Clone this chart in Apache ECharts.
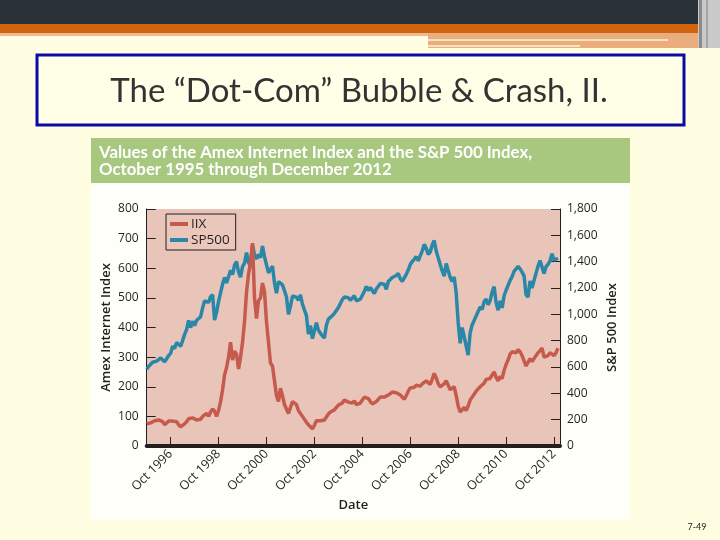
<!DOCTYPE html>
<html>
<head>
<meta charset="utf-8">
<script src="https://cdn.jsdelivr.net/npm/echarts@6/dist/echarts.min.js"></script>
<style>
html,body{margin:0;padding:0;background:#FFFDE2;}
#chart{width:720px;height:540px;}
</style>
</head>
<body>
<div id="chart"></div>
<script>
// ---- data ----
const slideTitle = 'The \u201CDot-Com\u201D Bubble & Crash, II.';
const chartTitle1 = 'Values of the Amex Internet Index and the S&P 500 Index,';
const chartTitle2 = 'October 1995 through December 2012';
const pageNumber = '7-49';
const seriesNames = ['IIX', 'SP500'];
const monthNames = ['Jan','Feb','Mar','Apr','May','Jun','Jul','Aug','Sep','Oct','Nov','Dec'];
const startYear = 1995, startMonth = 9, monthCount = 208; // Oct 1995 .. Jan 2013
const xTickLabels = ['Oct 1996','Oct 1998','Oct 2000','Oct 2002','Oct 2004','Oct 2006','Oct 2008','Oct 2010','Oct 2012'];
const leftTicks = [0,100,200,300,400,500,600,700,800];
const rightTicks = [0,200,400,600,800,1000,1200,1400,1600,1800];

// monthly values, Oct 1995 .. Dec 2012
const iix = [
  75, 80, 78,
  82, 85, 80, 88, 92, 82, 72, 78, 84, 80, 84, 80,
  82, 72, 65, 62, 75, 82, 92, 88, 95, 90, 88, 85,
  90, 100, 105, 110, 100, 115, 125, 118, 100, 120, 150, 190,
  240, 265, 300, 350, 290, 320, 310, 260, 300, 350, 420, 520,
  580, 620, 685, 500, 430, 490, 500, 550, 520, 420, 350, 280,
  270, 220, 170, 150, 195, 170, 140, 125, 110, 130, 150, 150,
  140, 120, 115, 100, 95, 80, 72, 68, 58, 70, 85, 82,
  85, 82, 88, 98, 108, 115, 118, 122, 130, 138, 140, 145,
  155, 150, 148, 150, 145, 152, 140, 135, 145, 155, 165, 170,
  160, 150, 142, 138, 150, 155, 165, 162, 165, 160, 172, 175,
  182, 178, 180, 185, 172, 165, 158, 170, 185, 196, 200, 198,
  205, 200, 202, 210, 215, 220, 215, 208, 225, 245, 230, 210,
  200, 195, 210, 220, 205, 190, 192, 200, 170, 135, 115, 122,
  130, 120, 135, 155, 165, 175, 185, 190, 200, 205, 212, 225,
  220, 228, 240, 250, 232, 220, 235, 228, 255, 275, 290, 310,
  318, 322, 315, 325, 318, 305, 310, 270, 275, 295, 285, 290,
  305, 315, 322, 330, 300, 295, 305, 315, 320, 305, 315, 330
];
const sp500 = [
  582, 605, 616,
  636, 640, 645, 654, 669, 671, 639, 651, 687, 705, 757, 741,
  786, 791, 757, 801, 848, 885, 954, 899, 947, 915, 955, 970,
  980, 1049, 1101, 1112, 1091, 1134, 1150, 957, 1017, 1099, 1164, 1229,
  1280, 1238, 1286, 1335, 1302, 1373, 1400, 1320, 1283, 1363, 1389, 1469,
  1394, 1366, 1527, 1452, 1421, 1455, 1431, 1518, 1437, 1429, 1315, 1320,
  1366, 1240, 1160, 1249, 1256, 1224, 1211, 1134, 1000, 1060, 1139, 1148,
  1130, 1107, 1147, 1077, 1067, 990, 850, 916, 815, 800, 936, 880,
  856, 841, 820, 917, 964, 975, 990, 1008, 996, 1051, 1058, 1112,
  1131, 1145, 1126, 1107, 1121, 1141, 1102, 1090, 1115, 1130, 1174, 1212,
  1181, 1204, 1181, 1157, 1192, 1191, 1234, 1220, 1229, 1190, 1249, 1248,
  1280, 1281, 1295, 1311, 1270, 1250, 1277, 1304, 1336, 1378, 1401, 1418,
  1438, 1407, 1421, 1482, 1531, 1503, 1455, 1474, 1527, 1560, 1481, 1468,
  1379, 1331, 1290, 1386, 1400, 1280, 1250, 1283, 1165, 940, 780, 900,
  830, 760, 690, 860, 919, 919, 987, 1021, 1057, 1036, 1096, 1115,
  1074, 1104, 1169, 1210, 1089, 1031, 1102, 1049, 1141, 1183, 1181, 1258,
  1286, 1327, 1326, 1364, 1345, 1321, 1292, 1150, 1131, 1253, 1200, 1258,
  1312, 1366, 1408, 1398, 1310, 1362, 1379, 1407, 1460, 1412, 1400, 1426
];

// ---- build ----
const categories = [];
for (let i = 0; i < monthCount; i++) {
  const m = (startMonth + i) % 12;
  const y = startYear + Math.floor((startMonth + i) / 12);
  categories.push(monthNames[m] + ' ' + y);
}
const isTick = (idx, val) => xTickLabels.indexOf(val) >= 0;
const fmtComma = v => v >= 1000 ? Math.floor(v / 1000) + ',' + String(v % 1000).padStart(3, '0') : String(v);

const FONT = 'Open Sans';
const INK = '#231F20';

const chart = echarts.init(document.getElementById('chart'), null, {renderer: 'canvas'});
chart.setOption({
  backgroundColor: '#FFFDE2',
  animation: false,
  textStyle: {fontFamily: FONT},
  graphic: [
    // slide decoration
    {type: 'rect', shape: {x: 0, y: 0, width: 720, height: 24}, style: {fill: '#2B3139'}, z: -10},
    {type: 'rect', shape: {x: 0, y: 24, width: 700, height: 9}, style: {fill: '#D3640F'}, z: -10},
    {type: 'rect', shape: {x: 0, y: 33, width: 428, height: 3}, style: {fill: '#EDB98E'}, z: -10},
    {type: 'rect', shape: {x: 428, y: 33, width: 272, height: 15}, style: {fill: '#E9AE7C'}, z: -10},
    {type: 'rect', shape: {x: 428, y: 39, width: 240, height: 2}, style: {fill: '#F8E2C4'}, z: -9},
    {type: 'rect', shape: {x: 428, y: 45, width: 152, height: 2}, style: {fill: '#F8E2C4'}, z: -9},
    {type: 'rect', shape: {x: 698, y: 0, width: 22, height: 48}, style: {fill: '#C9C9C9'}, z: -10},
    {type: 'rect', shape: {x: 699, y: 0, width: 3, height: 48}, style: {fill: '#8A8A8A'}, z: -9},
    {type: 'rect', shape: {x: 706, y: 0, width: 2, height: 48}, style: {fill: '#A5A5A5'}, z: -9},
    // title box
    {type: 'rect', shape: {x: 37, y: 55, width: 647, height: 70}, style: {fill: '#FFFEE6', stroke: '#0A0AA8', lineWidth: 3}, z: -8},
    {type: 'text', x: 359, y: 91, style: {text: slideTitle, font: '33px Lato', fill: '#333333', align: 'center', verticalAlign: 'middle'}},
    // chart panel
    {type: 'rect', shape: {x: 91, y: 138, width: 539, height: 382}, style: {fill: '#FFFFFA'}, z: -8},
    {type: 'rect', shape: {x: 91, y: 138, width: 539, height: 45}, style: {fill: '#A8C880'}, z: -7},
    {type: 'text', x: 99, y: 153, style: {text: chartTitle1, font: 'bold 16.8px Lato', fill: '#FFFFFF', verticalAlign: 'middle'}},
    {type: 'text', x: 99, y: 170, style: {text: chartTitle2, font: 'bold 16.8px Lato', fill: '#FFFFFF', verticalAlign: 'middle'}},
    // page number
    {type: 'text', x: 697, y: 527, style: {text: pageNumber, font: '9px Lato', fill: '#222222', align: 'center', verticalAlign: 'middle'}}
  ],
  legend: {
    data: seriesNames,
    orient: 'vertical',
    left: 166, top: 214,
    padding: [3, 6, 3, 4],
    itemGap: 2,
    itemWidth: 18, itemHeight: 4,
    icon: 'rect',
    borderColor: INK, borderWidth: 1,
    backgroundColor: '#EBC7BB',
    textStyle: {fontSize: 13.5, color: INK, fontFamily: FONT, padding: [0, 0, 0, -2]}
  },
  grid: {
    left: 146.7, top: 209, right: 160, bottom: 94,
    show: true, backgroundColor: '#E9C5B9', borderWidth: 0,
    containLabel: false
  },
  xAxis: {
    type: 'category',
    data: categories,
    boundaryGap: false,
    axisLine: {lineStyle: {color: INK, width: 4}},
    axisTick: {inside: true, length: 9, interval: isTick, lineStyle: {color: INK, width: 1}},
    axisLabel: {interval: isTick, rotate: 45, fontSize: 12.5, color: INK, margin: 6, fontFamily: FONT},
    name: 'Date', nameLocation: 'middle', nameGap: 53, nameMoveOverlap: false,
    nameTextStyle: {fontSize: 13, color: INK, fontWeight: 600, fontFamily: FONT},
    splitLine: {show: false}
  },
  yAxis: [
    {
      type: 'value', min: 0, max: 800, interval: 100, position: 'left',
      axisLine: {show: true, lineStyle: {color: INK, width: 1}},
      axisTick: {show: true, inside: true, length: 9, lineStyle: {color: INK}},
      axisLabel: {fontSize: 12, color: INK, margin: 8, fontFamily: FONT},
      splitLine: {show: false},
      name: 'Amex Internet Index', nameLocation: 'middle', nameGap: 34, nameRotate: 90, nameMoveOverlap: false,
      nameTextStyle: {fontSize: 13, color: INK, fontWeight: 600, fontFamily: FONT}
    },
    {
      type: 'value', min: 0, max: 1800, interval: 200, position: 'right',
      axisLine: {show: true, lineStyle: {color: INK, width: 1}},
      axisTick: {show: true, inside: true, length: 9, lineStyle: {color: INK}},
      axisLabel: {fontSize: 12, color: INK, margin: 7, fontFamily: FONT, formatter: fmtComma},
      splitLine: {show: false},
      name: 'S&P 500 Index', nameLocation: 'middle', nameGap: 46, nameRotate: 90, nameMoveOverlap: false,
      nameTextStyle: {fontSize: 13, color: INK, fontWeight: 600, fontFamily: FONT}
    }
  ],
  series: [
    {name: 'SP500', type: 'line', yAxisIndex: 1, data: sp500, symbol: 'none', lineStyle: {color: '#2B87A8', width: 3.5}, itemStyle: {color: '#2B87A8'}},
    {name: 'IIX', type: 'line', yAxisIndex: 0, data: iix, symbol: 'none', lineStyle: {color: '#C65A4C', width: 3.5}, itemStyle: {color: '#C65A4C'}}
  ]
});
</script>
</body>
</html>
